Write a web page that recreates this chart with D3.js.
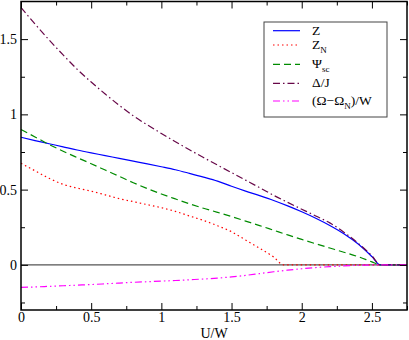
<!DOCTYPE html>
<html>
<head>
<meta charset="utf-8">
<script src="https://cdn.jsdelivr.net/npm/d3@7"></script>
<style>
  body { margin: 0; background: #fff; }
  svg { display: block; }
</style>
</head>
<body>
<svg></svg>
<script>
// U/W grid shared by Z, psi_sc, Delta/J and (Omega-Omega_N)/W
let uGrid = [0, 0.1, 0.2, 0.3, 0.4, 0.5, 0.6, 0.7, 0.8, 0.9, 1.0, 1.1, 1.2, 1.3,
  1.4, 1.5, 1.6, 1.7, 1.8, 1.9, 2.0, 2.1, 2.2, 2.3, 2.4, 2.5, 2.56, 2.75];

let zValues = [0.848, 0.826, 0.805, 0.784, 0.763, 0.744, 0.726, 0.707, 0.689, 0.671,
  0.652, 0.632, 0.608, 0.583, 0.556, 0.522, 0.49, 0.46, 0.428, 0.392,
  0.353, 0.31, 0.262, 0.207, 0.14, 0.055, 0, 0];

let psiValues = [0.9, 0.85, 0.8, 0.755, 0.713, 0.672, 0.63, 0.588, 0.546, 0.507,
  0.471, 0.438, 0.406, 0.376, 0.349, 0.321, 0.291, 0.261, 0.23, 0.199,
  0.169, 0.14, 0.112, 0.084, 0.055, 0.02, 0, 0];

let deltaValues = [1.71, 1.6, 1.495, 1.395, 1.3, 1.215, 1.135, 1.06, 0.99, 0.93,
  0.873, 0.818, 0.765, 0.713, 0.663, 0.613, 0.563, 0.513, 0.462, 0.415,
  0.37, 0.325, 0.279, 0.217, 0.145, 0.06, 0, 0];

let omegaValues = [-0.15, -0.147, -0.143, -0.139, -0.135, -0.131, -0.126, -0.121, -0.116, -0.112,
  -0.108, -0.104, -0.099, -0.094, -0.088, -0.08, -0.07, -0.058, -0.046, -0.035,
  -0.026, -0.018, -0.012, -0.007, -0.003, -0.001, 0, 0];

// Z_N has its own grid (it vanishes near U/W = 1.87)
let uN = [0, 0.05, 0.1, 0.2, 0.3, 0.4, 0.5, 0.6, 0.7, 0.8, 0.9, 1.0, 1.1, 1.2,
  1.3, 1.4, 1.5, 1.6, 1.7, 1.8, 1.87, 2.75];
let zNValues = [0.675, 0.65, 0.625, 0.575, 0.535, 0.51, 0.49, 0.465, 0.44, 0.42,
  0.4, 0.38, 0.355, 0.325, 0.295, 0.26, 0.22, 0.165, 0.11, 0.052, 0, 0];

let xTicks = [0, 0.5, 1, 1.5, 2, 2.5];
let xTickLabels = ["0", "0.5", "1", "1.5", "2", "2.5"];
let xMinor = [0.25, 0.75, 1.25, 1.75, 2.25, 2.75];
let yTicks = [0, 0.5, 1, 1.5];
let yTickLabels = ["0", "0.5", "1", "1.5"];
let yMinor = [-0.25, 0.25, 0.75, 1.25];

let width = 409;
let height = 340;
let padLeft = 21, padRight = 407, padTop = 1.5, padBottom = 310;
let serif = "'Liberation Serif', 'Times New Roman', Times, serif";

let svg = d3.select("svg").attr("width", width).attr("height", height)
  .attr("font-family", serif);

let xScale = d3.scaleLinear().domain([0, 2.75]).range([padLeft, padRight]);
let yScale = d3.scaleLinear().domain([-0.3, 1.75]).range([padBottom, padTop]);

// zero line
svg.append("line")
  .attr("x1", xScale(0)).attr("x2", xScale(2.75))
  .attr("y1", yScale(0)).attr("y2", yScale(0))
  .attr("stroke", "#555").attr("stroke-width", 1.2);

let series = [
  { name: "Z", x: uGrid, y: zValues, color: "#0000ff", dash: null },
  { name: "ZN", x: uN, y: zNValues, color: "#ff0000", dash: "1.5,3" },
  { name: "psi", x: uGrid, y: psiValues, color: "#008b00", dash: "7,4" },
  { name: "delta", x: uGrid, y: deltaValues, color: "#670748", dash: "7,3,1.5,3" },
  { name: "omega", x: uGrid, y: omegaValues, color: "#ff00ff", dash: "7,3,1.5,3,1.5,3" }
];

let line = d3.line()
  .x((d) => xScale(d[0]))
  .y((d) => yScale(d[1]))
  .curve(d3.curveMonotoneX);

series.forEach((s) => {
  let pts = s.x.map((u, i) => [u, s.y[i]]);
  svg.append("path")
    .datum(pts)
    .attr("d", line)
    .attr("fill", "none")
    .attr("stroke", s.color)
    .attr("stroke-width", 1.2)
    .attr("stroke-dasharray", s.dash);
});

// axes, ticks pointing inward on all four sides
function styleAxis(g) {
  g.attr("font-family", serif).attr("font-size", 14);
  g.select(".domain").remove();
  g.selectAll("line").attr("stroke", "#000").attr("stroke-width", 1);
  g.selectAll("text").attr("fill", "#000");
}

svg.append("g")
  .attr("transform", "translate(0," + padBottom + ")")
  .call(d3.axisBottom(xScale).tickValues(xTicks).tickSize(-7).tickPadding(2)
    .tickFormat((d, i) => xTickLabels[i]))
  .call(styleAxis);
svg.append("g")
  .attr("transform", "translate(0," + padBottom + ")")
  .call(d3.axisBottom(xScale).tickValues(xMinor).tickSize(-4).tickFormat(""))
  .call(styleAxis);
svg.append("g")
  .attr("transform", "translate(0," + padTop + ")")
  .call(d3.axisTop(xScale).tickValues(xTicks).tickSize(-7).tickFormat(""))
  .call(styleAxis);
svg.append("g")
  .attr("transform", "translate(0," + padTop + ")")
  .call(d3.axisTop(xScale).tickValues(xMinor).tickSize(-4).tickFormat(""))
  .call(styleAxis);

svg.append("g")
  .attr("transform", "translate(" + padLeft + ",0)")
  .call(d3.axisLeft(yScale).tickValues(yTicks).tickSize(-7).tickPadding(4)
    .tickFormat((d, i) => yTickLabels[i]))
  .call(styleAxis);
svg.append("g")
  .attr("transform", "translate(" + padLeft + ",0)")
  .call(d3.axisLeft(yScale).tickValues(yMinor).tickSize(-4).tickFormat(""))
  .call(styleAxis);
svg.append("g")
  .attr("transform", "translate(" + padRight + ",0)")
  .call(d3.axisRight(yScale).tickValues(yTicks).tickSize(-7).tickFormat(""))
  .call(styleAxis);
svg.append("g")
  .attr("transform", "translate(" + padRight + ",0)")
  .call(d3.axisRight(yScale).tickValues(yMinor).tickSize(-4).tickFormat(""))
  .call(styleAxis);

// frame
svg.append("rect")
  .attr("x", padLeft).attr("y", padTop)
  .attr("width", padRight - padLeft).attr("height", padBottom - padTop)
  .attr("fill", "none").attr("stroke", "#000").attr("stroke-width", 1.5);

// axis title
svg.append("text")
  .attr("x", (padLeft + padRight) / 2).attr("y", 337.5)
  .attr("text-anchor", "middle").attr("font-size", 14)
  .text("U/W");

// legend
let legend = svg.append("g");
legend.append("rect")
  .attr("x", 264).attr("y", 22).attr("width", 123).attr("height", 95)
  .attr("fill", "#fff").attr("stroke", "#444").attr("stroke-width", 1);

let legendY = [30.7, 45, 64.3, 83.3, 101];
series.forEach((s, i) => {
  legend.append("line")
    .attr("x1", 273).attr("x2", 300)
    .attr("y1", legendY[i]).attr("y2", legendY[i])
    .attr("stroke", s.color).attr("stroke-width", 1.2)
    .attr("stroke-dasharray", s.dash);
});

function legendText(y) {
  return legend.append("text").attr("x", 312).attr("y", y).attr("font-size", 13.5);
}
legendText(35).text("Z");
let tN = legendText(48.5);
tN.append("tspan").text("Z");
tN.append("tspan").attr("dy", 4).attr("font-size", 9).text("N");
let tPsi = legendText(68);
tPsi.append("tspan").text("\u03a8");
tPsi.append("tspan").attr("dy", 4).attr("font-size", 9).text("sc");
legendText(87).text("\u0394/J");
let tOm = legendText(105);
tOm.append("tspan").text("(\u03a9\u2212\u03a9");
tOm.append("tspan").attr("dy", 4).attr("font-size", 9).text("N");
tOm.append("tspan").attr("dy", -4).text(")/W");
</script>
</body>
</html>
